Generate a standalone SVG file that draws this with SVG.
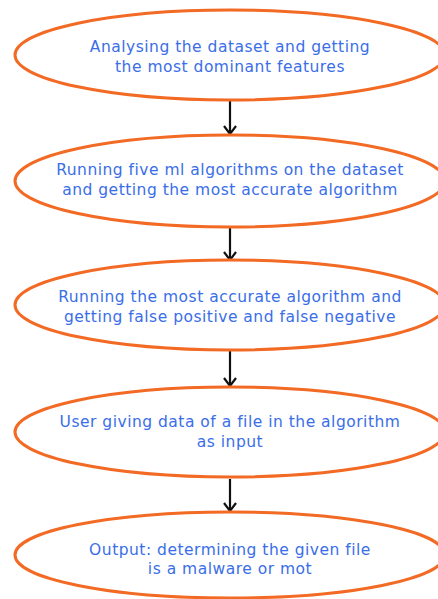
<svg xmlns="http://www.w3.org/2000/svg" width="438" height="599" viewBox="0 0 438 599">
<defs>
<style>
.node ellipse{fill:#fff;stroke:#f26a24;stroke-width:3}
.node text{font-family:"DejaVu Sans",sans-serif;font-size:15.5px;letter-spacing:0.5px;fill:#3a6ee8;text-anchor:middle}
.conn line{stroke:#111;stroke-width:2.2}
</style>
<marker id="ah" markerWidth="14" markerHeight="14" refX="11" refY="7" orient="auto" markerUnits="userSpaceOnUse">
<path d="M3,1 L11,7 L3,13" fill="none" stroke="#111" stroke-width="2.2"/>
</marker>
</defs>
<rect width="438" height="599" fill="#fff"/>
<g id="connectors" class="conn">
<line x1="230" y1="101" x2="230" y2="134" marker-end="url(#ah)"/>
<line x1="230" y1="228" x2="230" y2="260" marker-end="url(#ah)"/>
<line x1="230" y1="351" x2="230" y2="386" marker-end="url(#ah)"/>
<line x1="230" y1="479" x2="230" y2="511" marker-end="url(#ah)"/>
</g>
<g id="n1" class="node">
<ellipse cx="230" cy="55" rx="215" ry="45"/>
<text x="230" y="52">Analysing the dataset and getting</text>
<text x="230" y="72">the most dominant features</text>
</g>
<g id="n2" class="node">
<ellipse cx="230" cy="181" rx="215" ry="46"/>
<text x="230" y="175">Running five ml algorithms on the dataset</text>
<text x="230" y="195">and getting the most accurate algorithm</text>
</g>
<g id="n3" class="node">
<ellipse cx="230" cy="305" rx="215" ry="45"/>
<text x="230" y="302">Running the most accurate algorithm and</text>
<text x="230" y="322">getting false positive and false negative</text>
</g>
<g id="n4" class="node">
<ellipse cx="230" cy="432" rx="215" ry="45"/>
<text x="230" y="427">User giving data of a file in the algorithm</text>
<text x="230" y="447">as input</text>
</g>
<g id="n5" class="node">
<ellipse cx="230" cy="555" rx="215" ry="43"/>
<text x="230" y="555">Output: determining the given file</text>
<text x="230" y="574">is a malware or mot</text>
</g>
</svg>
